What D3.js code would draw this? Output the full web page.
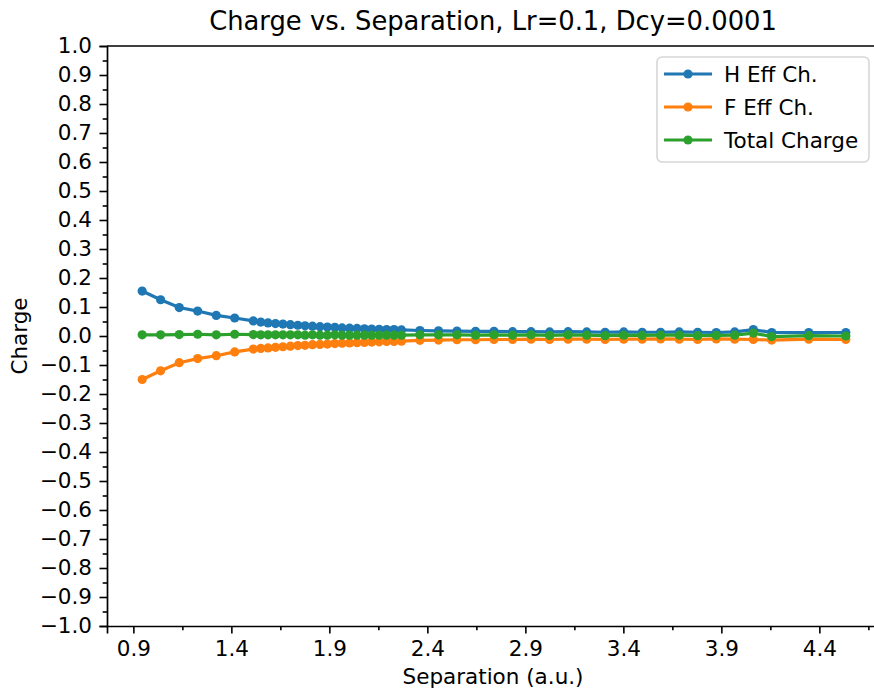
<!DOCTYPE html>
<html>
<head>
<meta charset="utf-8">
<script src="https://cdn.jsdelivr.net/npm/d3@7"></script>
<style>
  body { margin: 0; background: #fff; overflow: hidden; }
  svg { display: block; font-family: "DejaVu Sans", sans-serif; }
</style>
</head>
<body>
<svg width="874" height="689"></svg>
<script>
// separation in bohr
const separation = [0.945, 1.039, 1.134, 1.228, 1.323, 1.417, 1.512,
  1.550, 1.587, 1.625, 1.663, 1.701, 1.739, 1.776, 1.814, 1.852, 1.890,
  1.928, 1.965, 2.003, 2.041, 2.079, 2.116, 2.154, 2.192, 2.230, 2.268,
  2.362, 2.457, 2.551, 2.646, 2.740, 2.835, 2.929, 3.024, 3.118, 3.213,
  3.307, 3.402, 3.496, 3.590, 3.685, 3.779, 3.874, 3.968, 4.063, 4.157,
  4.346, 4.535]

const hCharge = [0.155, 0.125, 0.098, 0.086, 0.071, 0.062, 0.052,
  0.048, 0.045, 0.043, 0.041, 0.039, 0.037, 0.035, 0.034, 0.032, 0.031,
  0.030, 0.028, 0.027, 0.026, 0.025, 0.024, 0.023, 0.022, 0.022, 0.021,
  0.019, 0.018, 0.017, 0.016, 0.016, 0.015, 0.015, 0.014, 0.015, 0.014,
  0.013, 0.014, 0.013, 0.013, 0.014, 0.013, 0.012, 0.014, 0.022, 0.012,
  0.012, 0.012]

const fCharge = [-0.150, -0.120, -0.092, -0.078, -0.068, -0.055, -0.045,
  -0.043, -0.041, -0.039, -0.037, -0.035, -0.033, -0.032, -0.030, -0.029, -0.028,
  -0.026, -0.025, -0.024, -0.023, -0.022, -0.021, -0.020, -0.019, -0.019, -0.018,
  -0.015, -0.014, -0.013, -0.013, -0.012, -0.012, -0.011, -0.012, -0.011, -0.011,
  -0.012, -0.011, -0.011, -0.010, -0.011, -0.012, -0.010, -0.011, -0.012, -0.014,
  -0.011, -0.012]

const totalCharge = [0.004, 0.004, 0.005, 0.006, 0.004, 0.006, 0.005,
  0.004, 0.004, 0.004, 0.004, 0.004, 0.004, 0.003, 0.004, 0.003, 0.003,
  0.004, 0.003, 0.003, 0.003, 0.003, 0.003, 0.003, 0.003, 0.003, 0.003,
  0.004, 0.004, 0.004, 0.003, 0.004, 0.003, 0.004, 0.002, 0.004, 0.003,
  0.001, 0.003, 0.002, 0.003, 0.003, 0.001, 0.002, 0.003, 0.010, -0.002,
  0.001, 0.000]

const seriesNames = ['H Eff Ch.', 'F Eff Ch.', 'Total Charge']
const seriesColors = ['#1f77b4', '#ff7f0e', '#2ca02c']

const xMajor = [0.9, 1.4, 1.9, 2.4, 2.9, 3.4, 3.9, 4.4]
const xMinor = [1.15, 1.65, 2.15, 2.65, 3.15, 3.65, 4.15, 4.65]
const yMajor = d3.range(-10, 11).map(d => d / 10)
const yMinor = d3.range(-19, 20, 2).map(d => d / 20)

const svg = d3.select('svg')

const plotLeft = 107, plotRight = 881, plotTop = 46, plotBottom = 626
const fontSize = 21.5

// matplotlib-like 5% margins on x
const xMin = d3.min(separation), xMax = d3.max(separation)
const pad = (xMax - xMin) * 0.05
const x = d3.scaleLinear().domain([xMin - pad, xMax + pad]).range([plotLeft, plotRight])
const y = d3.scaleLinear().domain([-1, 1]).range([plotBottom, plotTop])

const fmt = d => d3.format('.1f')(d).replace('-', '\u2212')

// axes
const xAxis = svg.append('g')
    .attr('transform', `translate(0,${plotBottom})`)
    .call(d3.axisBottom(x).tickValues(xMajor).tickSize(7.5).tickPadding(7.5).tickFormat(d3.format('.1f')))
xAxis.append('g')
    .call(d3.axisBottom(x).tickValues(xMinor).tickSize(4.3).tickFormat(''))
    .select('.domain').remove()

const yAxis = svg.append('g')
    .attr('transform', `translate(${plotLeft},0)`)
    .call(d3.axisLeft(y).tickValues(yMajor).tickSize(7.5).tickPadding(7.5).tickFormat(fmt))
yAxis.append('g')
    .call(d3.axisLeft(y).tickValues(yMinor).tickSize(4.3).tickFormat(''))
    .select('.domain').remove()

svg.selectAll('.tick text')
    .attr('font-size', fontSize)
    .attr('font-family', '"DejaVu Sans", sans-serif')
    .attr('fill', '#000')
svg.selectAll('.tick line').attr('stroke', '#000').attr('stroke-width', 1.6)
svg.selectAll('.domain').attr('stroke', '#000').attr('stroke-width', 1.7)

// top spine (right one falls outside the picture)
svg.append('line')
    .attr('x1', plotLeft).attr('x2', plotRight)
    .attr('y1', plotTop).attr('y2', plotTop)
    .attr('stroke', '#000').attr('stroke-width', 1.7)

// series
const series = [hCharge, fCharge, totalCharge]
const line = d3.line()
    .x((d, i) => x(separation[i]))
    .y(d => y(d))

series.forEach((vals, k) => {
    const g = svg.append('g')
    g.append('path')
        .datum(vals)
        .attr('d', line)
        .attr('fill', 'none')
        .attr('stroke', seriesColors[k])
        .attr('stroke-width', 3.2)
    g.selectAll('circle').data(vals)
        .enter().append('circle')
            .attr('cx', (d, i) => x(separation[i]))
            .attr('cy', d => y(d))
            .attr('r', 4.6)
            .attr('fill', seriesColors[k])
})

// title and labels
svg.append('text')
    .attr('x', (plotLeft + plotRight) / 2 - 1)
    .attr('y', 30)
    .attr('text-anchor', 'middle')
    .attr('font-size', 25.8)
    .text('Charge vs. Separation, Lr=0.1, Dcy=0.0001')

svg.append('text')
    .attr('x', (plotLeft + plotRight) / 2 - 1)
    .attr('y', 684)
    .attr('text-anchor', 'middle')
    .attr('font-size', fontSize)
    .text('Separation (a.u.)')

svg.append('text')
    .attr('transform', `translate(27,${(plotTop + plotBottom) / 2}) rotate(-90)`)
    .attr('text-anchor', 'middle')
    .attr('font-size', fontSize)
    .text('Charge')

// legend
const legend = svg.append('g')
    .attr('transform', 'translate(657,57)')

legend.append('rect')
    .attr('width', 212)
    .attr('height', 105)
    .attr('rx', 5)
    .attr('fill', '#fff')
    .attr('fill-opacity', 0.8)
    .attr('stroke', '#d6d6d6')
    .attr('stroke-width', 1.6)

seriesNames.forEach((name, k) => {
    const row = legend.append('g')
        .attr('transform', `translate(0,${17 + k * 33})`)
    row.append('line')
        .attr('x1', 7).attr('x2', 55)
        .attr('stroke', seriesColors[k])
        .attr('stroke-width', 3.2)
    row.append('circle')
        .attr('cx', 31)
        .attr('r', 4.6)
        .attr('fill', seriesColors[k])
    row.append('text')
        .attr('x', 67)
        .attr('dy', '0.35em')
        .attr('font-size', fontSize)
        .text(name)
})
</script>
</body>
</html>
